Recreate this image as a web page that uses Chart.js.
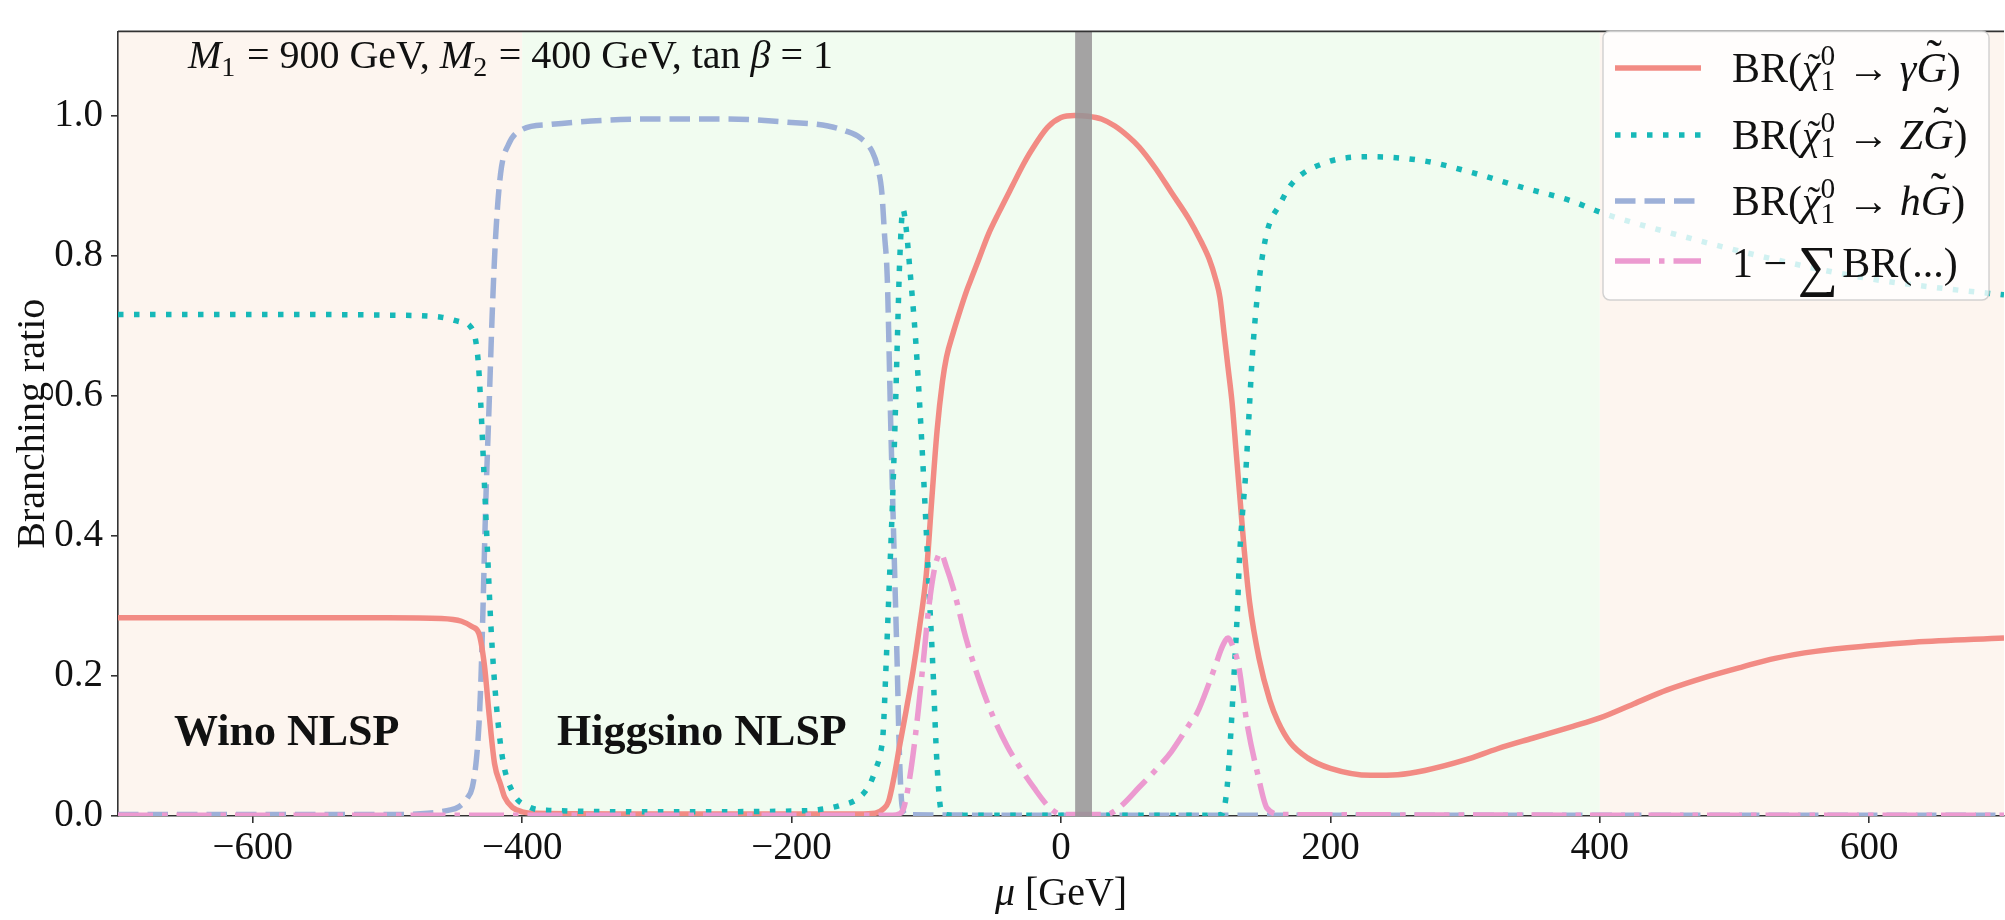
<!DOCTYPE html>
<html>
<head>
<meta charset="utf-8">
<script src="https://cdn.jsdelivr.net/npm/chart.js"></script>
<style>
  html, body { margin: 0; padding: 0; background: #fff; }
  canvas { display: block; }
</style>
</head>
<body>
<canvas id="brChart" width="2005" height="920"></canvas>
<script>
// mu [GeV] values and branching ratios
const muGamma = [-700, -600, -500, -460, -445, -437, -432, -428, -424.5, -420.5, -416, -413, -407, -400, -390, -300, -200, -150, -138, -132, -128, -124, -120, -115, -110, -105, -100, -96, -92, -88, -85, -80, -76, -70, -66, -60, -54, -46, -36, -28, -22, -10, 0, 10, 20, 30, 40, 50, 58, 70, 82, 95, 104, 110, 115, 118, 121, 124, 127, 130, 133, 136, 140, 147, 155, 161, 170, 183, 200, 230, 250, 270, 300, 324, 350, 380, 400, 425, 450, 480, 506, 530, 560, 600, 633, 700];
const brGamma = [0.283, 0.283, 0.283, 0.282, 0.278, 0.27, 0.26, 0.215, 0.145, 0.075, 0.045, 0.027, 0.012, 0.006, 0.004, 0.003, 0.003, 0.003, 0.004, 0.01, 0.021, 0.055, 0.098, 0.15, 0.205, 0.27, 0.345, 0.45, 0.55, 0.62, 0.655, 0.69, 0.715, 0.75, 0.77, 0.80, 0.83, 0.862, 0.9, 0.93, 0.95, 0.983, 0.997, 1.0, 0.999, 0.995, 0.985, 0.97, 0.955, 0.925, 0.89, 0.852, 0.82, 0.795, 0.765, 0.74, 0.69, 0.64, 0.59, 0.52, 0.45, 0.38, 0.305, 0.225, 0.165, 0.135, 0.105, 0.083, 0.068, 0.058, 0.059, 0.065, 0.08, 0.096, 0.111, 0.128, 0.14, 0.16, 0.18, 0.199, 0.213, 0.225, 0.235, 0.243, 0.248, 0.254];

const muZ = [-700, -600, -500, -460, -445, -439, -433, -430.7, -428.2, -425.7, -423.2, -419.5, -414.6, -407, -395, -380, -300, -200, -180, -165, -150, -142, -137.5, -134, -132, -130, -127.6, -125.2, -123.2, -121.5, -119.7, -117.3, -115, -112.8, -107.8, -104.1, -100.9, -98, -95, -92.5, -90, -88, -80, 0, 115, 119.7, 123.4, 126, 128.4, 130.8, 132.6, 134.6, 137, 139.5, 142, 145.7, 152, 163, 172, 197, 230, 270, 306, 343, 379, 400, 452, 524, 597, 660, 700];
const brZ = [0.716, 0.716, 0.715, 0.712, 0.705, 0.70, 0.657, 0.5875, 0.4825, 0.377, 0.272, 0.167, 0.083, 0.034, 0.013, 0.008, 0.006, 0.007, 0.009, 0.0145, 0.026, 0.045, 0.067, 0.09, 0.12, 0.208, 0.325, 0.442, 0.56, 0.677, 0.794, 0.866, 0.84, 0.794, 0.677, 0.56, 0.442, 0.325, 0.208, 0.091, 0.02, 0.004, 0.001, 0.001, 0.001, 0.003, 0.043, 0.1165, 0.20, 0.287, 0.372, 0.429, 0.486, 0.571, 0.656, 0.741, 0.826, 0.875, 0.904, 0.933, 0.941, 0.935, 0.918, 0.897, 0.878, 0.862, 0.8325, 0.797, 0.768, 0.752, 0.744];

const muH = [-700, -500, -470, -455, -447, -441, -437, -434, -432, -430.5, -429.4, -427, -424.5, -422, -419.5, -416, -410, -400, -380, -340, -300, -250, -200, -173, -160, -149, -140, -136, -133, -131, -129, -126.4, -124, -121.5, -120, -118, -115, 0, 700];
const brH = [0.002, 0.002, 0.004, 0.008, 0.013, 0.025, 0.041, 0.08, 0.132, 0.2, 0.272, 0.447, 0.5875, 0.728, 0.833, 0.917, 0.959, 0.98, 0.987, 0.993, 0.995, 0.995, 0.99, 0.985, 0.978, 0.968, 0.948, 0.925, 0.89, 0.83, 0.77, 0.56, 0.384, 0.208, 0.091, 0.015, 0.002, 0.001, 0.001];

const muRest = [-700, -300, -125, -120, -117, -114, -110, -106, -102, -98, -94, -91, -89.3, -85, -80, -70, -60, -50, -40, -30, -20, -10, -3, 0, 30, 37, 45, 58, 70, 82, 95, 101, 110, 115, 120, 124, 128, 132, 138, 146, 153, 164, 700];
const brRest = [0.001, 0.001, 0.001, 0.003, 0.01, 0.035, 0.085, 0.15, 0.225, 0.30, 0.352, 0.372, 0.375, 0.355, 0.325, 0.25, 0.19, 0.14, 0.10, 0.068, 0.04, 0.015, 0.004, 0.002, 0.002, 0.004, 0.015, 0.041, 0.065, 0.092, 0.13, 0.147, 0.19, 0.217, 0.243, 0.254, 0.24, 0.213, 0.133, 0.06, 0.011, 0.002, 0.001];

const xTicks = [-600, -400, -200, 0, 200, 400, 600];
const yTicks = [0.0, 0.2, 0.4, 0.6, 0.8, 1.0];

// NLSP regions and the excluded band in mu
const regionEdges = [-700, -400, 400, 700];
const bandRange = [10.5, 23];

const SERIF = "'Liberation Serif', 'DejaVu Serif', serif";
const RED = '#f28b84';
const CYAN = '#17b8b8';
const BLUE = '#9db0d8';
const PINK = '#ec9ad0';
const PEACH = '#fdf5ef';
const GREEN = '#f1fcf0';
const AXIS = '#333';
const LW = 5.5;

const styles = [
  { color: RED, dash: [] },
  { color: CYAN, dash: [5.5, 10.5] },
  { color: BLUE, dash: [20.5, 9] },
  { color: PINK, dash: [35, 9, 5.5, 9] }
];

function pts(xs, ys) {
  return xs.map((x, i) => ({ x: x, y: ys[i] }));
}

function fnt(size, italic, bold) {
  return (italic ? 'italic ' : '') + (bold ? 'bold ' : '') + size + 'px ' + SERIF;
}

// small helper for mixed upright / italic / sub+superscript text
function drawRich(ctx, parts, x, y, size, dry) {
  const x0 = x;
  ctx.save();
  ctx.textAlign = 'left';
  ctx.textBaseline = 'alphabetic';
  ctx.fillStyle = '#111';
  for (const p of parts) {
    if (p.gap) { x += p.gap * size; continue; }
    if (p.sup !== undefined || p.sub !== undefined) {
      ctx.font = fnt(size * 0.7, false);
      let w = 0;
      if (p.sup !== undefined) {
        if (!dry) ctx.fillText(p.sup, x, y - size * 0.4);
        w = ctx.measureText(p.sup).width;
      }
      if (p.sub !== undefined) {
        if (!dry) ctx.fillText(p.sub, x, y + size * 0.2);
        w = Math.max(w, ctx.measureText(p.sub).width);
      }
      x += w + size * 0.04;
      continue;
    }
    const s = size * (p.scale || 1);
    ctx.font = fnt(s, p.it, p.bold);
    if (!dry) ctx.fillText(p.t, x, y + (p.dy || 0) * size);
    const w = ctx.measureText(p.t).width;
    if (p.tilde && !dry) {
      ctx.font = fnt(size * (p.tildeScale || 0.9), false);
      const tw = ctx.measureText('\u02DC').width;
      ctx.fillText('\u02DC', x + w / 2 - tw / 2 + size * 0.06, y - size * (p.tildeUp || 0.05));
    }
    x += w;
  }
  ctx.restore();
  return x - x0;
}

function brLabel(finalState) {
  return [
    { t: 'BR(' },
    { t: '\u03C7', it: true, tilde: true },
    { sup: '0', sub: '1' },
    { t: ' \u2192 ' },
    { t: finalState, it: true },
    { t: 'G', it: true, tilde: true, tildeUp: 0.27, tildeScale: 1.1 },
    { t: ')' }
  ];
}

const legendRows = [
  brLabel('\u03B3'),
  brLabel('Z'),
  brLabel('h'),
  [{ t: '1 \u2212 ' }, { t: '\u2211', scale: 1.35, dy: 0.2 }, { gap: 0.1 }, { t: 'BR(...)' }]
];

const decorPlugin = {
  id: 'decor',
  beforeDraw(chart) {
    const { ctx, chartArea: a, scales: { x } } = chart;
    const fills = [PEACH, GREEN, PEACH];
    ctx.save();
    for (let i = 0; i < regionEdges.length - 1; i++) {
      const x0 = x.getPixelForValue(regionEdges[i]);
      const x1 = x.getPixelForValue(regionEdges[i + 1]);
      ctx.fillStyle = fills[i];
      ctx.fillRect(x0, a.top, x1 - x0, a.bottom - a.top);
    }
    ctx.restore();
  },
  afterDatasetsDraw(chart) {
    const { ctx, chartArea: a, scales: { x } } = chart;
    const b0 = x.getPixelForValue(bandRange[0]);
    const b1 = x.getPixelForValue(bandRange[1]);
    ctx.save();
    ctx.fillStyle = 'rgba(150, 147, 149, 0.85)';
    ctx.fillRect(b0, a.top, b1 - b0, a.bottom - a.top);
    ctx.restore();
  },
  afterDraw(chart) {
    const { ctx, chartArea: a } = chart;
    ctx.save();
    // top spine
    ctx.strokeStyle = AXIS;
    ctx.lineWidth = 1.6;
    ctx.beginPath();
    ctx.moveTo(a.left, a.top);
    ctx.lineTo(a.right, a.top);
    ctx.stroke();

    // parameter annotation
    drawRich(ctx, [
      { t: 'M', it: true }, { sub: '1' }, { t: ' = 900 GeV, ' },
      { t: 'M', it: true }, { sub: '2' }, { t: ' = 400 GeV, tan ' },
      { t: '\u03B2', it: true }, { t: ' = 1' }
    ], 188, 68, 40);

    // region labels
    ctx.fillStyle = '#111';
    ctx.font = fnt(44, false, true);
    ctx.textBaseline = 'alphabetic';
    ctx.fillText('Wino NLSP', 174, 745);
    ctx.fillText('Higgsino NLSP', 557, 745);

    // axis titles
    const xl = [{ t: '\u03BC', it: true }, { t: ' [GeV]' }];
    const w = drawRich(ctx, xl, 0, 0, 40, true);
    drawRich(ctx, xl, (a.left + a.right) / 2 - w / 2, 905, 40);

    ctx.save();
    ctx.translate(44, (a.top + a.bottom) / 2);
    ctx.rotate(-Math.PI / 2);
    ctx.font = fnt(40, false);
    ctx.textAlign = 'center';
    ctx.fillStyle = '#111';
    ctx.fillText('Branching ratio', 0, 0);
    ctx.restore();

    // legend
    const lx = 1603, ly = 31, lw = 386, lh = 269, r = 7;
    ctx.beginPath();
    ctx.roundRect(lx, ly, lw, lh, r);
    ctx.fillStyle = 'rgba(255, 255, 255, 0.8)';
    ctx.fill();
    ctx.strokeStyle = 'rgba(200, 200, 200, 0.8)';
    ctx.lineWidth = 1.5;
    ctx.stroke();

    const rowY = [68, 135, 201, 261];
    const baseOff = [14, 14, 14, 16];
    for (let i = 0; i < 4; i++) {
      ctx.save();
      ctx.strokeStyle = styles[i].color;
      ctx.lineWidth = LW;
      ctx.lineCap = 'butt';
      ctx.setLineDash(styles[i].dash);
      ctx.beginPath();
      ctx.moveTo(1615, rowY[i]);
      ctx.lineTo(1701, rowY[i]);
      ctx.stroke();
      ctx.restore();
      drawRich(ctx, legendRows[i], 1732, rowY[i] + baseOff[i], 42);
    }
    ctx.restore();
  }
};

Chart.defaults.font.family = SERIF;
Chart.defaults.font.size = 39;
Chart.defaults.color = '#111';

const series = [
  [muGamma, brGamma, 3],
  [muZ, brZ, 2],
  [muH, brH, 4],
  [muRest, brRest, 1]
];

const ctx = document.getElementById('brChart').getContext('2d');
new Chart(ctx, {
  type: 'line',
  data: {
    datasets: series.map((s, i) => ({
      data: pts(s[0], s[1]),
      borderColor: styles[i].color,
      borderDash: styles[i].dash,
      borderWidth: LW,
      borderJoinStyle: 'round',
      pointRadius: 0,
      fill: false,
      cubicInterpolationMode: 'monotone',
      order: s[2]
    }))
  },
  options: {
    responsive: false,
    animation: false,
    events: [],
    layout: { padding: { top: 10, right: 1, left: 0, bottom: 0 } },
    plugins: {
      legend: { display: false },
      tooltip: { enabled: false }
    },
    scales: {
      x: {
        type: 'linear',
        min: -700,
        max: 700,
        afterFit: s => { s.height = 104; },
        afterBuildTicks: s => { s.ticks = xTicks.map(v => ({ value: v })); },
        border: { display: true, color: AXIS, width: 1.6 },
        grid: { drawOnChartArea: false, drawTicks: true, tickLength: 7, color: AXIS, lineWidth: 1.6 },
        ticks: {
          autoSkip: false,
          maxRotation: 0,
          padding: 2,
          color: '#111',
          callback: v => (v < 0 ? '\u2212' + Math.abs(v) : String(v))
        }
      },
      y: {
        type: 'linear',
        min: 0,
        max: 1.12,
        afterFit: s => { s.width = 118; },
        afterBuildTicks: s => { s.ticks = yTicks.map(v => ({ value: v })); },
        border: { display: true, color: AXIS, width: 1.6 },
        grid: { drawOnChartArea: false, drawTicks: true, tickLength: 7, color: AXIS, lineWidth: 1.6 },
        ticks: {
          padding: 8,
          color: '#111',
          callback: v => Number(v).toFixed(1)
        }
      }
    }
  },
  plugins: [decorPlugin]
});
</script>
</body>
</html>
